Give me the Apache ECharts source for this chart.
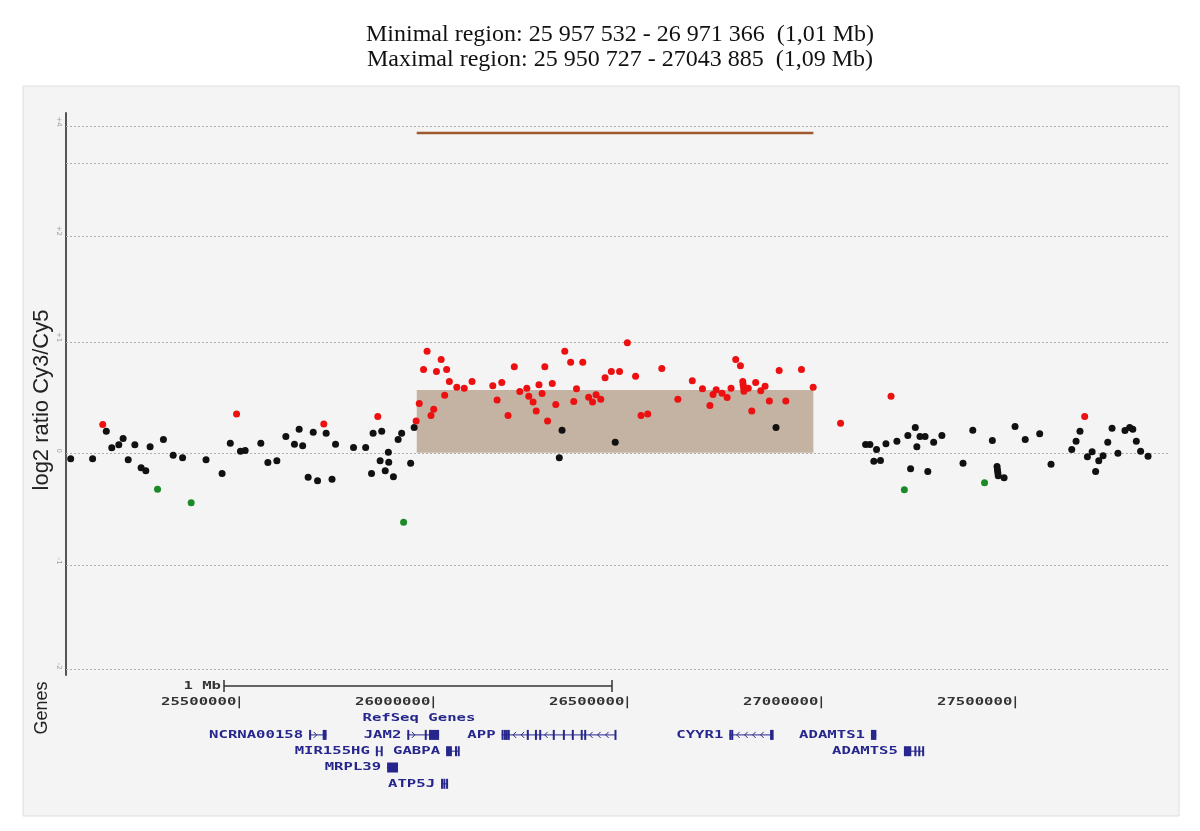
<!DOCTYPE html>
<html><head><meta charset="utf-8">
<script src="https://cdn.jsdelivr.net/npm/echarts@6/dist/echarts.min.js"></script>
<style>html,body{margin:0;padding:0;background:#fff}#c{width:1200px;height:831px}</style>
</head><body><div id="c"></div>
<script>
// ---- data (positions in Mb on chr21, values = log2 ratio Cy3/Cy5) ----
const blackPoints = [
[25.073,-0.054],[25.129,-0.054],[25.164,0.195],[25.178,0.045],[25.196,0.072],[25.207,0.129],[25.220,-0.063],[25.237,0.072],[25.253,-0.135],[25.265,-0.162],[25.276,0.054],[25.310,0.120],[25.335,-0.022],[25.359,-0.045],[25.419,-0.063],[25.460,-0.186],[25.481,0.086],[25.507,0.014],[25.519,0.021],[25.559,0.086],[25.577,-0.087],[25.600,-0.072],[25.623,0.147],[25.645,0.077],[25.657,0.213],[25.666,0.063],[25.680,-0.220],[25.693,0.186],[25.704,-0.250],[25.726,0.177],[25.741,-0.238],[25.750,0.077],[25.796,0.048],[25.827,0.048],[25.842,-0.186],[25.846,0.177],[25.864,-0.072],[25.868,0.195],[25.877,-0.162],[25.885,0.005],[25.886,-0.085],[25.898,-0.214],[25.910,0.120],[25.919,0.177],[25.942,-0.094],[25.951,0.228],
[26.322,-0.045],[26.329,0.204],[26.465,0.095],[26.876,0.228],
[27.105,0.075],[27.116,0.075],[27.126,-0.076],[27.133,0.030],[27.143,-0.069],[27.157,0.081],[27.185,0.105],[27.213,0.156],[27.220,-0.144],[27.232,0.228],[27.236,0.054],[27.244,0.147],[27.257,0.147],[27.264,-0.168],[27.279,0.095],[27.300,0.156],[27.354,-0.094],[27.379,0.204],[27.429,0.111],[27.441,-0.123],[27.442,-0.153],[27.443,-0.180],[27.444,-0.207],[27.459,-0.225],[27.487,0.237],[27.513,0.120],[27.550,0.171],[27.579,-0.103],[27.632,0.030],[27.643,0.105],[27.653,0.195],[27.672,-0.036],[27.684,0.009],[27.693,-0.168],[27.701,-0.072],[27.712,-0.027],[27.724,0.095],[27.735,0.222],[27.750,-0.004],[27.768,0.201],[27.780,0.228],[27.788,0.213],[27.797,0.105],[27.808,0.014],[27.827,-0.031]
];
const redPoints = [
[25.155,0.255],[25.497,0.351],[25.720,0.261],[25.858,0.327],[25.956,0.288],
[25.964,0.444],[25.975,0.750],[25.984,0.915],[25.994,0.336],[26.001,0.393],[26.008,0.732],[26.020,0.841],[26.029,0.519],[26.034,0.750],[26.041,0.642],[26.060,0.591],[26.079,0.582],[26.099,0.642],[26.152,0.604],[26.163,0.477],[26.175,0.633],[26.191,0.336],[26.207,0.775],[26.221,0.552],[26.239,0.582],[26.244,0.510],[26.255,0.459],[26.263,0.378],[26.270,0.613],[26.278,0.534],[26.285,0.775],[26.292,0.288],[26.304,0.624],[26.313,0.435],[26.336,0.915],[26.351,0.816],[26.359,0.462],[26.366,0.577],[26.382,0.816],[26.397,0.501],[26.407,0.459],[26.416,0.523],[26.428,0.483],[26.439,0.676],[26.455,0.732],[26.476,0.732],[26.496,0.991],[26.517,0.690],[26.531,0.336],[26.548,0.351],[26.584,0.759],[26.625,0.483],[26.662,0.649],[26.688,0.577],[26.707,0.426],[26.715,0.525],[26.723,0.568],[26.738,0.537],[26.751,0.498],[26.761,0.582],[26.773,0.841],[26.785,0.784],[26.791,0.642],[26.792,0.613],[26.793,0.586],[26.794,0.555],[26.805,0.582],[26.814,0.378],[26.824,0.633],[26.837,0.559],[26.848,0.600],[26.859,0.468],[26.884,0.741],[26.901,0.468],[26.941,0.750],[26.971,0.591],
[27.041,0.267],[27.170,0.510],[27.665,0.327]
];
const greenPoints = [[25.295,-0.328],[25.381,-0.450],[25.924,-0.625],[27.204,-0.333],[27.409,-0.268]];

const minimalRegion = [25.957532, 26.971366];
const maximalRegion = [25.950727, 27.043885];
const regionMeanLog2 = 0.565;
const titleLines = ['Minimal region: 25 957 532 - 26 971 366  (1,01 Mb)', 'Maximal region: 25 950 727 - 27043 885  (1,09 Mb)'];

const yTickLabels = ['-2', '-1', '0', '+1', '+2', '', '+4'];

const geneNames  = ['NCRNA00158','JAM2','APP','CYYR1','ADAMTS1','MIR155HG','GABPA','ADAMTS5','MRPL39','ATP5J'];
const geneStarts = [25.680, 25.933, 26.176, 26.763, 27.128, 25.852, 26.033, 27.213, 25.881, 26.020];
const geneEnds   = [25.725, 26.015, 26.468, 26.873, 27.142, 25.866, 26.066, 27.263, 25.909, 26.035];
const geneRows   = [3, 3, 3, 3, 3, 4, 4, 4, 5, 6];
const geneStrands = ['+', '+', '-', '-', '', '', '', '', '', ''];
const geneExons = [
  [[25.680,25.6815],[25.715,25.725]],
  [[25.933,25.9345],[25.978,25.980],[25.989,26.015]],
  [[26.176,26.177],[26.182,26.183],[26.187,26.188],[26.192,26.193],[26.241,26.242],[26.262,26.263],[26.273,26.274],[26.308,26.309],[26.334,26.335],[26.357,26.358],[26.380,26.381],[26.389,26.390],[26.467,26.468]],
  [[26.763,26.764],[26.768,26.769],[26.868,26.869],[26.872,26.873]],
  [[27.128,27.142]],
  [[25.852,25.8535],[25.8645,25.866]],
  [[26.033,26.048],[26.056,26.058],[26.063,26.066]],
  [[27.213,27.232],[27.240,27.242],[27.250,27.252],[27.260,27.263]],
  [[25.881,25.909]],
  [[26.020,26.0215],[26.026,26.0275],[26.033,26.035]]
];
const coordTicks = [25.5, 26.0, 26.5, 27.0, 27.5];
const coordTickLabels = ['25500000', '26000000', '26500000', '27000000', '27500000'];
const scaleBar = [25.4606, 26.4606];
const scaleBarLabel = '1 Mb';
const trackLabel = 'RefSeq Genes';
const trackLabelPos = 25.963;

// ---- layout / style ----
const dataX = [25.061, 27.878];
const geneX = [25.0534, 27.8936];
// display positions of the (compressed) y grid levels -2,-1,0,1,2,3,4
const gridDisplay = [-1.952, -1.006, 0, 0.996, 1.952, 2.61, 2.937];
const aberrationTrackLevel = 2.88;
const geneColor = '#26268c';
const monoFont = 'bold 11px "DejaVu Sans Mono"';
const stretch = 1.42;

const chart = echarts.init(document.getElementById('c'), null, {renderer: 'canvas'});

function renderGene(params, api) {
  const i = api.value(3), row = api.value(1);
  const a = api.coord([api.value(0), row]);
  const b = api.coord([api.value(2), row]);
  const y = a[1];
  const children = [{type: 'line', shape: {x1: a[0], y1: y, x2: b[0], y2: y}, style: {stroke: geneColor, lineWidth: 1}}];
  const ex = geneExons[i].map(e => [api.coord([e[0], row])[0], api.coord([e[1], row])[0]]);
  if (geneStrands[i]) {
    const dir = geneStrands[i] === '-' ? -1 : 1;
    for (let k = 0; k < ex.length - 1; k++) {
      const s = ex[k][1] + 3, t = ex[k + 1][0] - 3;
      for (let x = s + 3; x < t - 1; x += 8) {
        children.push({type: 'polyline', shape: {points: [[x - 2 * dir, y - 3], [x + dir, y], [x - 2 * dir, y + 3]]}, style: {stroke: geneColor, lineWidth: 1, fill: null}});
      }
    }
  }
  ex.forEach(p => {
    const w = Math.max(2, p[1] - p[0]);
    children.push({type: 'rect', shape: {x: p[0], y: y - 5, width: w, height: 10}, style: {fill: geneColor}});
  });
  children.push({type: 'text', x: a[0] - 6, y: y, scaleX: stretch, style: {text: geneNames[i], font: monoFont, fill: geneColor, align: 'right', textAlign: 'right', verticalAlign: 'middle', textVerticalAlign: 'middle'}});
  return {type: 'group', children};
}
function renderTick(params, api) {
  const p = api.coord([api.value(0), api.value(1)]);
  return {type: 'group', children: [
    {type: 'line', shape: {x1: p[0], y1: p[1] - 6, x2: p[0], y2: p[1] + 6}, style: {stroke: '#333', lineWidth: 1.5}},
    {type: 'text', x: p[0] - 3, y: p[1], scaleX: stretch, style: {text: coordTickLabels[api.value(2)], font: monoFont, fill: '#333', align: 'right', textAlign: 'right', verticalAlign: 'middle', textVerticalAlign: 'middle'}}
  ]};
}
function renderScaleBar(params, api) {
  const a = api.coord([api.value(0), api.value(1)]);
  const b = api.coord([api.value(2), api.value(1)]);
  return {type: 'group', children: [
    {type: 'line', shape: {x1: a[0], y1: a[1], x2: b[0], y2: b[1]}, style: {stroke: '#333', lineWidth: 1.5}},
    {type: 'line', shape: {x1: a[0], y1: a[1] - 6, x2: a[0], y2: a[1] + 6}, style: {stroke: '#333', lineWidth: 1.5}},
    {type: 'line', shape: {x1: b[0], y1: b[1] - 6, x2: b[0], y2: b[1] + 6}, style: {stroke: '#333', lineWidth: 1.5}},
    {type: 'text', x: a[0] - 3, y: a[1], scaleX: stretch, style: {text: scaleBarLabel, font: monoFont, fill: '#333', align: 'right', textAlign: 'right', verticalAlign: 'middle', textVerticalAlign: 'middle'}}
  ]};
}
function renderTrackLabel(params, api) {
  const p = api.coord([api.value(0), api.value(1)]);
  return {type: 'text', x: p[0], y: p[1], scaleX: stretch, style: {text: trackLabel, font: monoFont, fill: geneColor, align: 'center', textAlign: 'center', verticalAlign: 'middle', textVerticalAlign: 'middle'}};
}

const pointStyle = (c) => ({type: 'scatter', xAxisIndex: 0, yAxisIndex: 0, symbol: 'circle', symbolSize: 7, itemStyle: {color: c, opacity: 1}, z: 5, silent: true, animation: false});

const option = {
  animation: false,
  backgroundColor: '#ffffff',
  graphic: [
    {type: 'rect', z: -10, shape: {x: 23, y: 86, width: 1156, height: 730}, style: {fill: '#f4f4f4', stroke: '#dedede', lineWidth: 1}},
    {type: 'text', x: 620, y: 35, style: {text: titleLines[0], font: '24px "Liberation Serif"', fill: '#111', align: 'center', verticalAlign: 'middle'}},
    {type: 'text', x: 620, y: 60, style: {text: titleLines[1], font: '24px "Liberation Serif"', fill: '#111', align: 'center', verticalAlign: 'middle'}},
    {type: 'text', x: 42, y: 400, rotation: Math.PI / 2, style: {text: 'log2 ratio Cy3/Cy5', font: '22px "Liberation Sans"', fill: '#222', align: 'center', verticalAlign: 'middle'}},
    {type: 'text', x: 42, y: 708, rotation: Math.PI / 2, style: {text: 'Genes', font: '18px "Liberation Sans"', fill: '#222', align: 'center', verticalAlign: 'middle'}}
  ],
  grid: [
    {left: 66, right: 32, top: 113, bottom: 156},
    {left: 66, right: 32, top: 677.85, height: 114.1}
  ],
  xAxis: [
    {gridIndex: 0, type: 'value', min: dataX[0], max: dataX[1], show: false},
    {gridIndex: 1, type: 'value', min: geneX[0], max: geneX[1], show: false}
  ],
  yAxis: [
    {gridIndex: 0, type: 'value', min: -2, max: 3.06,
     axisLine: {show: true, lineStyle: {color: '#555', width: 2}}, axisTick: {show: false}, axisLabel: {show: false}, splitLine: {show: false}},
    {gridIndex: 1, type: 'value', min: -0.5, max: 6.5, inverse: true, show: false}
  ],
  series: [
    {type: 'scatter', xAxisIndex: 0, yAxisIndex: 0, symbolSize: 0, silent: true, clip: false, z: 1,
     data: gridDisplay.map((d, i) => [dataX[0], d, yTickLabels[i]]),
     label: {show: true, position: 'left', distance: 7, rotate: -90, formatter: p => p.data[2], fontSize: 7, color: '#888', fontFamily: 'DejaVu Sans'},
     markLine: {silent: true, symbol: 'none', label: {show: false}, lineStyle: {type: [2, 2], color: '#b0b0b0', width: 1},
       data: gridDisplay.map(d => ({yAxis: d}))},
     markArea: {silent: true, itemStyle: {color: '#c4b3a3', opacity: 1},
       data: [[{coord: [minimalRegion[0], 0]}, {coord: [minimalRegion[1], regionMeanLog2]}]]}
    },
    {type: 'line', xAxisIndex: 0, yAxisIndex: 0, symbol: 'none', silent: true, z: 3,
     data: [[minimalRegion[0], aberrationTrackLevel], [minimalRegion[1], aberrationTrackLevel]],
     lineStyle: {color: '#a0582e', width: 2.5}},
    Object.assign(pointStyle('#111111'), {name: 'normal', data: blackPoints}),
    Object.assign(pointStyle('#ec1010'), {name: 'gain', data: redPoints}),
    Object.assign(pointStyle('#1a8a26'), {name: 'loss', data: greenPoints}),
    {type: 'custom', xAxisIndex: 1, yAxisIndex: 1, silent: true, clip: false,
     renderItem: renderScaleBar, encode: {x: [0, 2], y: 1}, data: [[scaleBar[0], 0, scaleBar[1]]]},
    {type: 'custom', xAxisIndex: 1, yAxisIndex: 1, silent: true, clip: false,
     renderItem: renderTick, encode: {x: 0, y: 1}, data: coordTicks.map((t, i) => [t, 1, i])},
    {type: 'custom', xAxisIndex: 1, yAxisIndex: 1, silent: true, clip: false,
     renderItem: renderTrackLabel, encode: {x: 0, y: 1}, data: [[trackLabelPos, 2]]},
    {type: 'custom', xAxisIndex: 1, yAxisIndex: 1, silent: true, clip: false,
     renderItem: renderGene, encode: {x: [0, 2], y: 1},
     data: geneNames.map((n, i) => [geneStarts[i], geneRows[i], geneEnds[i], i])}
  ]
};
chart.setOption(option);
</script></body></html>
